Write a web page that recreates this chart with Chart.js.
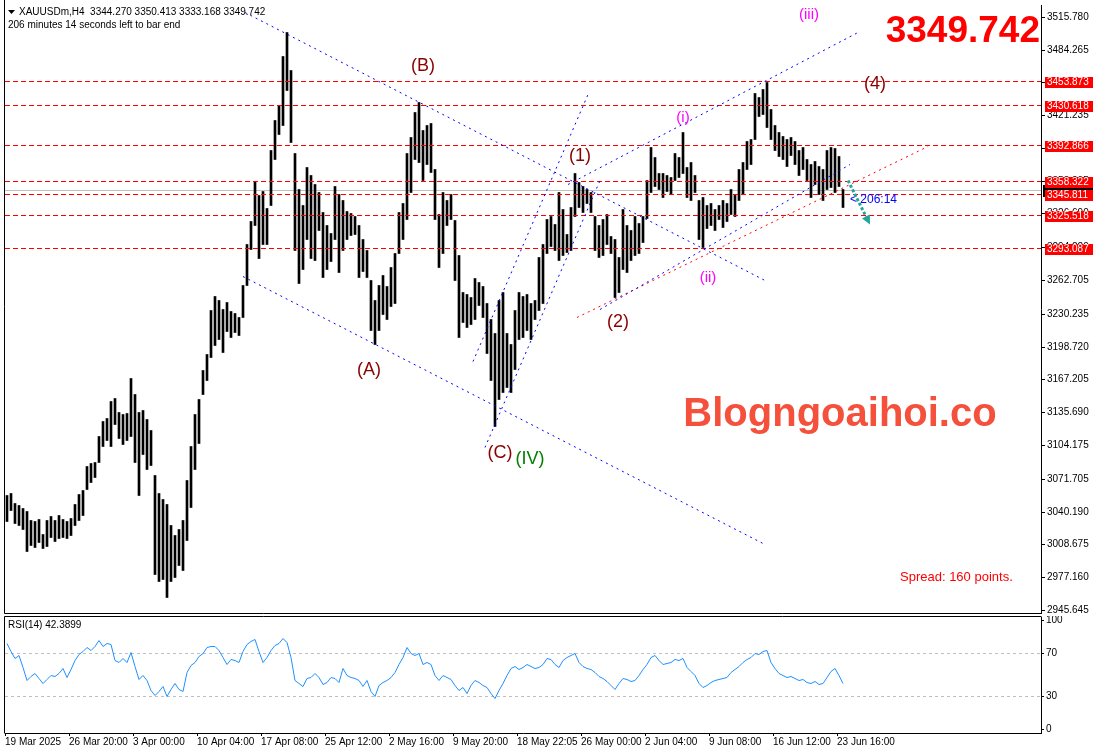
<!DOCTYPE html>
<html>
<head>
<meta charset="utf-8">
<title>XAUUSDm H4</title>
<script src="https://cdn.jsdelivr.net/npm/chart.js@4.4.1/dist/chart.umd.min.js"></script>
<style>
  html, body { margin: 0; padding: 0; background: #fff; }
  #wrap { position: relative; width: 1093px; height: 756px; overflow: hidden; }
  #wrap canvas { position: absolute; left: 0; }
</style>
</head>
<body>
<div id="wrap">
  <canvas id="priceChart" width="1093" height="616" style="top:0"></canvas>
  <canvas id="rsiChart" width="1093" height="140" style="top:616px"></canvas>
</div>
<script>
// values, one slot = two H4 bars
const priceHigh = [
  3056, 3058, 3048, 3046, 3044, 3041, 3032, 3031, 3033, 3019,
  3032, 3036, 3032, 3037, 3033, 3031, 3034, 3047, 3057, 3061,
  3084, 3087, 3088, 3113, 3127, 3130, 3146, 3149, 3136, 3134,
  3135, 3169, 3153, 3136, 3138, 3129, 3119, 3075, 3058, 3052,
  3047, 3027, 3018, 3023, 3032, 3070, 3103, 3134, 3148, 3176,
  3192, 3234, 3247, 3244, 3235, 3242, 3233, 3231, 3227, 3258,
  3297, 3319, 3358, 3344, 3348, 3332, 3388, 3417, 3431, 3478,
  3501, 3465, 3385, 3350, 3335, 3371, 3364, 3355, 3347, 3328,
  3316, 3308, 3353, 3345, 3340, 3329, 3327, 3324, 3316, 3302,
  3292, 3263, 3244, 3258, 3268, 3257, 3275, 3289, 3328, 3337,
  3385, 3400, 3424, 3434, 3407, 3412, 3414, 3369, 3326, 3347,
  3340, 3345, 3320, 3287, 3251, 3249, 3246, 3265, 3261, 3257,
  3241, 3225, 3212, 3244, 3251, 3212, 3201, 3234, 3251, 3247,
  3249, 3241, 3244, 3285, 3297, 3321, 3324, 3317, 3347, 3331,
  3307, 3333, 3366, 3357, 3353, 3350, 3347, 3324, 3316, 3321,
  3326, 3305, 3302, 3285, 3331, 3316, 3311, 3324, 3318, 3324,
  3359, 3391, 3381, 3366, 3366, 3364, 3362, 3385, 3381, 3405,
  3371, 3376, 3364, 3340, 3343, 3335, 3337, 3331, 3335, 3340,
  3337, 3350, 3345, 3369, 3376, 3396, 3398, 3443, 3439, 3446,
  3453, 3427, 3412, 3405, 3401, 3398, 3400, 3396, 3388, 3391,
  3379, 3374, 3377, 3372, 3369, 3388, 3391, 3390, 3382, 3350
];
const priceLow = [
  3031, 3042, 3029, 3027, 3023, 3002, 3008, 3006, 3011, 3005,
  3007, 3016, 3012, 3015, 3016, 3015, 3018, 3027, 3032, 3037,
  3062, 3069, 3073, 3088, 3103, 3109, 3103, 3124, 3111, 3105,
  3109, 3113, 3088, 3056, 3095, 3081, 3085, 2980, 2973, 2975,
  2958, 2973, 2977, 2989, 2984, 3013, 3045, 3081, 3106, 3153,
  3167, 3189, 3200, 3206, 3194, 3214, 3208, 3213, 3210, 3227,
  3258, 3293, 3316, 3284, 3297, 3297, 3335, 3379, 3403, 3412,
  3445, 3395, 3292, 3260, 3273, 3302, 3284, 3282, 3311, 3266,
  3273, 3281, 3302, 3270, 3292, 3302, 3306, 3307, 3266, 3271,
  3266, 3215, 3201, 3215, 3230, 3225, 3238, 3241, 3289, 3302,
  3321, 3347, 3379, 3376, 3359, 3374, 3367, 3321, 3275, 3289,
  3316, 3321, 3263, 3208, 3222, 3218, 3220, 3225, 3239, 3227,
  3193, 3167, 3122, 3148, 3155, 3160, 3155, 3177, 3206, 3208,
  3215, 3206, 3225, 3234, 3241, 3289, 3295, 3292, 3282, 3287,
  3290, 3292, 3324, 3333, 3328, 3337, 3328, 3292, 3285, 3287,
  3297, 3289, 3246, 3251, 3273, 3270, 3282, 3287, 3289, 3299,
  3322, 3347, 3353, 3350, 3343, 3348, 3345, 3359, 3362, 3366,
  3343, 3340, 3347, 3302, 3294, 3313, 3316, 3311, 3321, 3314,
  3319, 3326, 3324, 3340, 3345, 3369, 3374, 3398, 3420, 3422,
  3410, 3398, 3388, 3382, 3379, 3372, 3383, 3374, 3364, 3369,
  3359, 3343, 3355, 3345, 3340, 3350, 3352, 3347, 3353, 3333
];
const rsiValues = [
  79, 72, 65, 68, 57, 45, 49, 51, 47, 42,
  46, 50, 49, 51, 56, 48, 55, 63, 69, 72,
  75, 73, 76, 82, 76, 79, 78, 63, 62, 65,
  62, 71, 58, 46, 50, 45, 36, 31, 35, 39,
  30, 37, 42, 37, 35, 52, 59, 62, 67, 70,
  75, 76, 76, 73, 66, 60, 64, 63, 62, 72,
  78, 81, 83, 72, 62, 66, 73, 77, 79, 84,
  80, 66, 45, 42, 39, 47, 48, 51, 48, 41,
  43, 48, 47, 43, 56, 50, 48, 47, 45, 39,
  45, 35, 30, 40, 43, 45, 48, 52, 60, 66,
  75, 70, 68, 70, 60, 62, 60, 50, 45, 50,
  48, 46, 40, 36, 38, 33, 40, 45, 43, 40,
  38, 33, 28, 36, 42, 50, 56, 58, 55, 57,
  60, 58, 56, 57, 60, 65, 64, 60, 57, 63,
  66, 68, 70, 62, 58, 56, 55, 52, 49, 47,
  44, 40, 37, 42, 47, 46, 44, 45, 50, 55,
  60, 66, 68, 63, 60, 61, 62, 64, 63, 65,
  57, 53, 50, 42, 38, 40, 43, 45, 46, 47,
  48, 52, 55, 58, 62, 64, 66, 70, 69, 72,
  73, 62, 56, 51, 50, 48, 49, 47, 45, 46,
  43, 42, 44, 41, 42, 48, 53, 56, 50, 42.3899
];
const dateLabels = ['19 Mar 2025', '26 Mar 20:00', '3 Apr 00:00', '10 Apr 04:00', '17 Apr 08:00',
  '25 Apr 12:00', '2 May 16:00', '9 May 20:00', '18 May 22:05', '26 May 00:00',
  '2 Jun 04:00', '9 Jun 08:00', '16 Jun 12:00', '23 Jun 16:00'];
const priceTicks = [3515.780, 3484.265, 3452.750, 3421.235, 3389.720, 3358.205, 3326.690, 3294.220,
  3262.705, 3230.235, 3198.720, 3167.205, 3135.690, 3104.175, 3071.705, 3040.190, 3008.675,
  2977.160, 2945.645];
const rsiTicks = [0, 30, 70, 100];
const levelPrices = [3453.873, 3430.618, 3392.866, 3358.322, 3345.811, 3325.518, 3293.087];
const lastPrice = 3349.742;
const rsiLast = 42.3899;

// trend lines: [slotA, priceA, slotB, priceB]
const blueTrends = [
  [59.5, 3520.5, 189.5, 3263.2],
  [59, 3266.7, 189.5, 3008.7],
  [116.5, 3184.4, 145.25, 3442],
  [119.5, 3102.6, 148.25, 3359.3],
  [140.25, 3355.5, 212.75, 3500.7],
  [148.25, 3235.3, 210.75, 3374.7]
];
const redTrends = [[142.5, 3227.6, 230.25, 3391.6]];

// Elliott wave labels
const waveText  = ['(iii)', '(4)', '(B)', '(1)', '(i)', '(2)', '(ii)', '(A)', '(C)', '(IV)'];
const waveSlot  = [200.5, 217, 104, 143.25, 169, 152.75, 175.25, 90.5, 123.25, 130.75];
const wavePrice = [3518, 3451.6, 3468, 3382.4, 3419.9, 3222.8, 3266.1, 3176.7, 3096.9, 3090.2];
const waveDegree = ['minute', 'minor', 'minor', 'minor', 'minute', 'minor', 'minute', 'minor', 'minor', 'intermediate'];

const X_MIN = -0.5, X_MAX = 258.5;   // visible slots incl. chart shift on the right
const FAMILY = "'Liberation Sans', Arial, sans-serif";
const AXIS_FONT = { family: FAMILY, size: 10 };
const WAVE_STYLE = {
  minute: { color: '#ff00ff', size: 15 },
  minor: { color: '#8b0000', size: 18 },
  intermediate: { color: '#008000', size: 18 }
};

const toPoints = vals => vals.map((v, i) => ({ x: i, y: v }));
const segment = t => [{ x: t[0], y: t[1] }, { x: t[2], y: t[3] }];
const flat = v => [{ x: X_MIN, y: v }, { x: X_MAX, y: v }];
const lineDs = (data, color, dash, order) => ({
  type: 'line', data, borderColor: color, borderWidth: 1, borderDash: dash,
  pointRadius: 0, fill: false, tension: 0, order
});

// keep horizontal lines on whole pixels so the dashes stay crisp like MT4
const snapPixels = s => {
  if (s._snapped) return;
  const f = s.getPixelForValue.bind(s);
  s.getPixelForValue = (v, i) => Math.floor(f(v, i)) + 0.5;
  s._snapped = true;
};

const priceOverlay = {
  id: 'priceOverlay',
  afterDraw(chart) {
    const { ctx, chartArea: a, scales: { x, y } } = chart;
    ctx.save();
    ctx.strokeStyle = '#000';
    ctx.lineWidth = 1;
    ctx.beginPath();
    ctx.moveTo(a.left - 0.5, 0);
    ctx.lineTo(a.left - 0.5, a.bottom + 0.5);
    ctx.lineTo(a.right + 0.5, a.bottom + 0.5);
    ctx.stroke();

    // wave counts
    ctx.textAlign = 'center';
    ctx.textBaseline = 'middle';
    waveText.forEach((t, i) => {
      const st = WAVE_STYLE[waveDegree[i]];
      ctx.font = st.size + 'px ' + FAMILY;
      ctx.fillStyle = st.color;
      ctx.fillText(t, x.getPixelForValue(waveSlot[i]), y.getPixelForValue(wavePrice[i]));
    });

    // bar countdown and projection arrow beside the last bar
    const lastX = x.getPixelForValue(priceHigh.length - 1);
    const lastY = y.getPixelForValue(lastPrice);
    ctx.textAlign = 'left';
    ctx.font = '12px ' + FAMILY;
    ctx.fillStyle = '#0000ff';
    ctx.fillText('< 206:14', lastX + 7, lastY + 9);

    const x0 = lastX + 5, y0 = lastY - 10, x1 = lastX + 27, y1 = lastY + 34;
    const ang = Math.atan2(y1 - y0, x1 - x0);
    ctx.strokeStyle = '#26a69a';
    ctx.fillStyle = '#26a69a';
    ctx.lineWidth = 3;
    ctx.setLineDash([3, 2]);
    ctx.beginPath();
    ctx.moveTo(x0, y0);
    ctx.lineTo(x1 - 6 * Math.cos(ang), y1 - 6 * Math.sin(ang));
    ctx.stroke();
    ctx.setLineDash([]);
    ctx.beginPath();
    ctx.moveTo(x1, y1);
    ctx.lineTo(x1 - 10 * Math.cos(ang - 0.45), y1 - 10 * Math.sin(ang - 0.45));
    ctx.lineTo(x1 - 10 * Math.cos(ang + 0.45), y1 - 10 * Math.sin(ang + 0.45));
    ctx.closePath();
    ctx.fill();

    // screen labels
    ctx.fillStyle = '#ff0000';
    ctx.font = 'bold 37px ' + FAMILY;
    ctx.textAlign = 'right';
    ctx.textBaseline = 'alphabetic';
    ctx.fillText(lastPrice.toFixed(3), a.right - 1, 42);

    ctx.fillStyle = '#f4503c';
    ctx.font = 'bold 40px ' + FAMILY;
    ctx.textAlign = 'center';
    ctx.textBaseline = 'middle';
    ctx.fillText('Blogngoaihoi.co', 840, 415);

    ctx.fillStyle = '#ff0000';
    ctx.font = '13px ' + FAMILY;
    ctx.textAlign = 'left';
    ctx.fillText('Spread: 160 points.', 900, 577);

    // header
    ctx.fillStyle = '#000';
    ctx.beginPath();
    ctx.moveTo(8, 10); ctx.lineTo(15, 10); ctx.lineTo(11.5, 14); ctx.closePath();
    ctx.fill();
    ctx.font = '10px ' + FAMILY;
    ctx.fillText('XAUUSDm,H4  3344.270 3350.413 3333.168 ' + lastPrice.toFixed(3), 19, 12);
    ctx.fillText('206 minutes 14 seconds left to bar end', 8, 25);

    // price boxes on the axis
    const cy = Math.round(lastY);
    ctx.fillStyle = '#000';
    ctx.fillRect(a.right + 2, cy - 6, 52, 12);
    levelPrices.forEach(v => {
      const py = Math.round(y.getPixelForValue(v));
      ctx.fillStyle = '#ff0000';
      ctx.fillRect(a.right + 4, py - 5, 48, 11);
      ctx.fillStyle = '#fff';
      ctx.fillText(v.toFixed(3), a.right + 6, py + 0.5);
    });
    ctx.restore();
  }
};

new Chart(document.getElementById('priceChart'), {
  type: 'bar',
  data: {
    datasets: [
      { type: 'bar', data: priceHigh.map((h, i) => ({ x: i, y: [priceLow[i], h] })),
        backgroundColor: '#000', borderWidth: 0, barThickness: 2, order: 2 },
      lineDs(flat(lastPrice), '#c0c0c0', [], 3),
      ...levelPrices.map(v => lineDs(flat(v), '#ff0000', [5, 3], 1)),
      ...blueTrends.map(t => lineDs(segment(t), '#0000ff', [2, 4], 0)),
      ...redTrends.map(t => lineDs(segment(t), '#ff0000', [2, 4], 0))
    ]
  },
  options: {
    responsive: false,
    animation: false,
    devicePixelRatio: 1,
    layout: { padding: { left: 5, top: 5, right: 0, bottom: 3 } },
    plugins: { legend: { display: false }, tooltip: { enabled: false } },
    scales: {
      x: { type: 'linear', display: false, min: X_MIN, max: X_MAX, offset: false },
      y: {
        position: 'right', min: 2943.1, max: 3527.6,
        afterBuildTicks: s => { s.ticks = priceTicks.map(v => ({ value: v })); },
        afterFit: s => { s.width = 52; s.paddingTop = 0; s.paddingBottom = 0; },
        afterUpdate: snapPixels,
        ticks: { color: '#000', font: AXIS_FONT, padding: 2, callback: v => v.toFixed(3) },
        grid: { drawOnChartArea: false, drawTicks: true, tickLength: 4, tickColor: '#000' },
        border: { display: true, color: '#000' }
      }
    }
  },
  plugins: [priceOverlay]
});

const rsiOverlay = {
  id: 'rsiOverlay',
  afterDraw(chart) {
    const { ctx, chartArea: a } = chart;
    ctx.save();
    ctx.strokeStyle = '#000';
    ctx.lineWidth = 1;
    ctx.beginPath();
    ctx.moveTo(a.right + 0.5, a.top - 0.5);
    ctx.lineTo(a.left - 0.5, a.top - 0.5);
    ctx.lineTo(a.left - 0.5, a.bottom + 0.5);
    ctx.stroke();
    ctx.fillStyle = '#000';
    ctx.font = '10px ' + FAMILY;
    ctx.textBaseline = 'middle';
    ctx.fillText('RSI(14) ' + rsiLast.toFixed(4), 8, a.top + 8);
    ctx.restore();
  }
};

new Chart(document.getElementById('rsiChart'), {
  type: 'line',
  data: {
    datasets: [
      { data: toPoints(rsiValues), borderColor: '#1e90ff', borderWidth: 1, pointRadius: 0, tension: 0, order: 0 },
      lineDs(flat(70), '#c0c0c0', [3, 3], 1),
      lineDs(flat(30), '#c0c0c0', [3, 3], 1)
    ]
  },
  options: {
    responsive: false,
    animation: false,
    devicePixelRatio: 1,
    layout: { padding: { left: 5, top: 1, right: 0, bottom: 0 } },
    plugins: { legend: { display: false }, tooltip: { enabled: false } },
    scales: {
      x: {
        type: 'linear', min: X_MIN, max: X_MAX, offset: false,
        afterBuildTicks: s => { s.ticks = dateLabels.map((_, k) => ({ value: k * 16 - 0.5 })); },
        afterFit: s => { s.height = 23; s.paddingLeft = 0; s.paddingRight = 0; },
        ticks: { autoSkip: false, maxRotation: 0, minRotation: 0, align: 'start', padding: 0,
                 color: '#000', font: AXIS_FONT, callback: (v, i) => dateLabels[i] },
        grid: { drawOnChartArea: false, drawTicks: true, tickLength: 3, tickColor: '#000' },
        border: { display: true, color: '#000' }
      },
      y: {
        position: 'right', min: -3.7, max: 103.7,
        afterBuildTicks: s => { s.ticks = rsiTicks.map(v => ({ value: v })); },
        afterFit: s => { s.width = 52; s.paddingTop = 0; s.paddingBottom = 0; },
        afterUpdate: snapPixels,
        ticks: { color: '#000', font: AXIS_FONT, padding: 2 },
        grid: { drawOnChartArea: false, drawTicks: true, tickLength: 3, tickColor: '#000' },
        border: { display: true, color: '#000' }
      }
    }
  },
  plugins: [rsiOverlay]
});
</script>
</body>
</html>
